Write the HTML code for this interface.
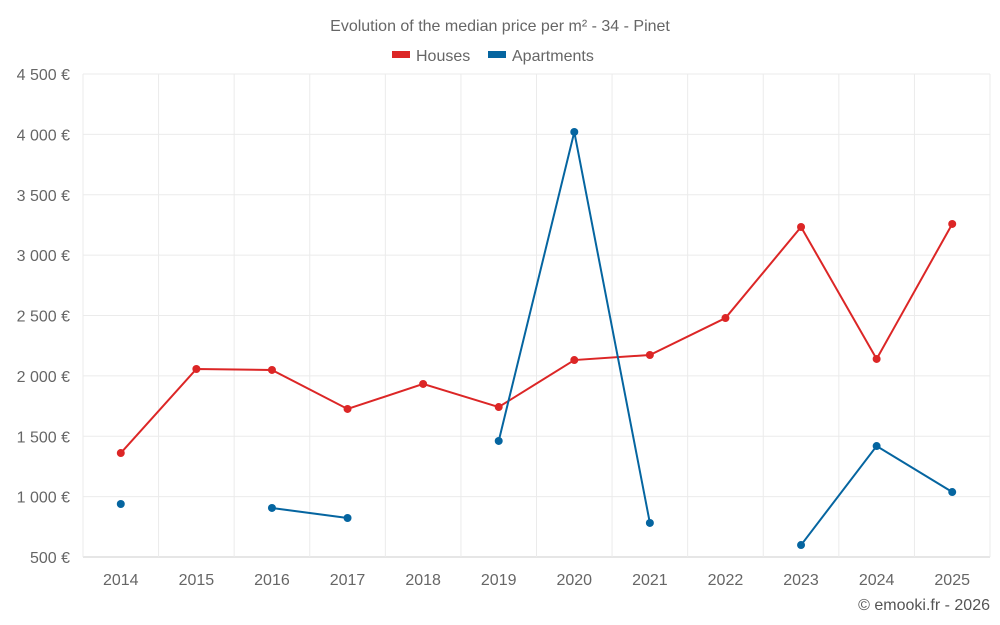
<!DOCTYPE html>
<html><head><meta charset="utf-8">
<style>
html,body{margin:0;padding:0;background:#fff;}
svg{display:block;font-family:"Liberation Sans",sans-serif;}
</style></head>
<body>
<svg id="chart" width="1000" height="625">
<text x="500" y="31" text-anchor="middle" font-size="16" fill="#666">Evolution of the median price per m² - 34 - Pinet</text>
<g>
<g><rect x="392" y="51" width="18" height="7" fill="#dc2626"/><text x="416" y="61" font-size="16" fill="#666">Houses</text></g>
<g><rect x="488" y="51" width="18" height="7" fill="#0565a0"/><text x="512" y="61" font-size="16" fill="#666">Apartments</text></g>
</g>
<g id="grid"></g><g id="axes"></g><g id="series"></g>
<text x="990" y="610" text-anchor="end" font-size="16" fill="#555">© emooki.fr - 2026</text>
</svg>
<script>
const years=[2014,2015,2016,2017,2018,2019,2020,2021,2022,2023,2024,2025];
const houses=[1361,2057,2049,1726,1933,1742,2131,2173,2479,3233,2140,3258];
const apartments=[939,null,906,823,null,1461,4020,782,null,599,1419,1038];
const yTicks=[500,1000,1500,2000,2500,3000,3500,4000,4500];
const yTickLabels=["500 €","1 000 €","1 500 €","2 000 €","2 500 €","3 000 €","3 500 €","4 000 €","4 500 €"];
const L=83,R=990,T=74,B=557,yMin=500,yMax=4500;
const band=(R-L)/years.length;
function xs(i){return L+band*(i+0.5);}
function ys(v){return B-(v-yMin)/(yMax-yMin)*(B-T);}
const NS="http://www.w3.org/2000/svg";
function mk(tag,attrs,parent){const e=document.createElementNS(NS,tag);for(const k in attrs)e.setAttribute(k,attrs[k]);parent.appendChild(e);return e;}
const grid=document.getElementById('grid'),axes=document.getElementById('axes'),ser=document.getElementById('series');
yTicks.forEach((t,i)=>{
 const l=mk('line',{x1:L,x2:R,y1:ys(t),y2:ys(t),stroke:i==0?'#ccc':'#ebebeb','stroke-width':1},grid);
 
 
 const tx=mk('text',{x:70,y:ys(t)+6,'text-anchor':'end','font-size':16,fill:'#666'},axes);
 tx.textContent=yTickLabels[i];
 
 
});
for(let i=0;i<=years.length;i++){
 const x=L+band*i;
 const l=mk('line',{x1:x,x2:x,y1:T,y2:B,stroke:'#ebebeb','stroke-width':1},grid);
 
 
}
years.forEach((y,i)=>{
 const tx=mk('text',{x:xs(i),y:585,'text-anchor':'middle','font-size':16,fill:'#666'},axes);
 tx.textContent=y;
 
 
});
function draw(data,color,name){
 let d='',pen=false;
 data.forEach((v,i)=>{if(v==null){pen=false;return;}d+=(pen?'L':'M')+xs(i)+' '+ys(v)+' ';pen=true;});
 const p=mk('path',{d:d,fill:'none',stroke:color,'stroke-width':2},ser);
 
 
 data.forEach((v,i)=>{if(v==null)return;
  const c=mk('circle',{cx:xs(i),cy:ys(v),r:4,fill:color},ser);
  
  
 });
}
draw(houses,'#dc2626','houses');
draw(apartments,'#0565a0','apartments');
</script>
</body></html>
